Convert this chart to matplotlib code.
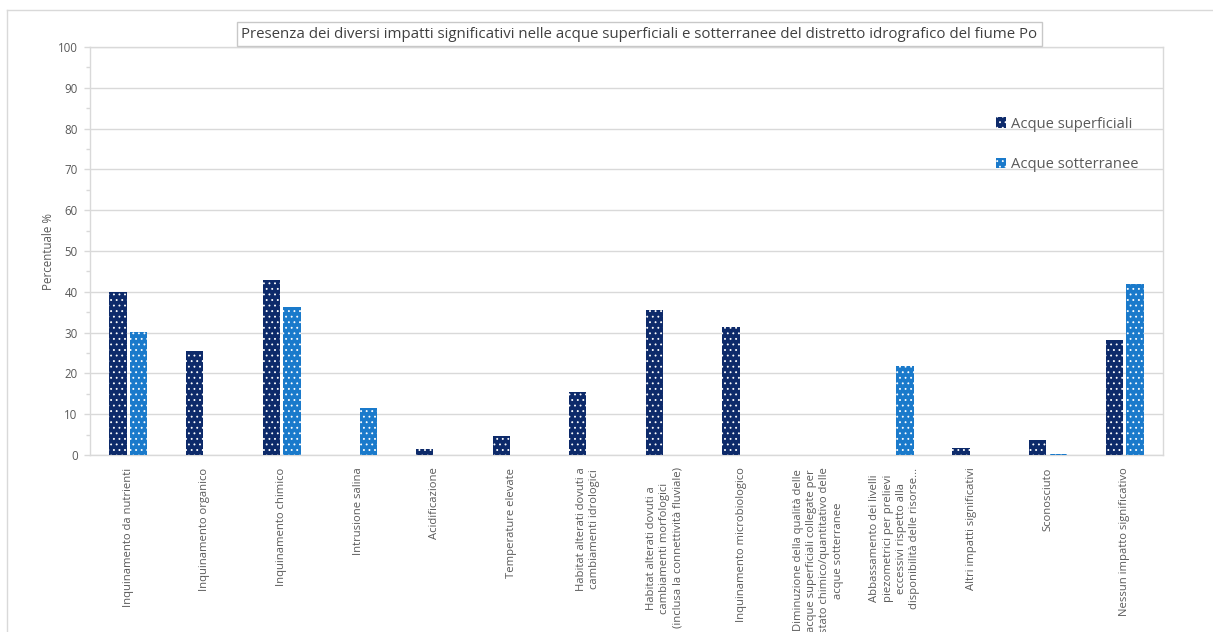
import matplotlib
matplotlib.use("Agg")
import matplotlib.pyplot as plt
import numpy as np
from matplotlib.patches import Patch
from matplotlib.lines import Line2D

plt.rcParams["font.family"] = ["Open Sans", "DejaVu Sans"]
plt.rcParams["hatch.color"] = "white"
plt.rcParams["hatch.linewidth"] = 0.6

# ------------------------------------------------------------------ data -----
categories = [
    "Inquinamento da nutrienti",
    "Inquinamento organico",
    "Inquinamento chimico",
    "Intrusione salina",
    "Acidificazione",
    "Temperature elevate",
    "Habitat alterati dovuti a\ncambiamenti idrologici",
    "Habitat alterati dovuti a\ncambiamenti morfologici\n(inclusa la connettività fluviale)",
    "Inquinamento microbiologico",
    "Diminuzione della qualità delle\nacque superficiali collegate per\nstato chimico/quantitativo delle\nacque sotterranee",
    "Abbassamento dei livelli\npiezometrici per prelievi\neccessivi rispetto alla\ndisponibilità delle risorse...",
    "Altri impatti significativi",
    "Sconosciuto",
    "Nessun impatto significativo",
]
superficiali = [40.0, 25.6, 42.9, 0.0, 1.4, 4.7, 15.4, 35.5, 31.3, 0.0, 0.0, 1.6, 3.6, 28.1]
sotterranee = [30.1, 0.0, 36.3, 11.6, 0.0, 0.0, 0.0, 0.0, 0.0, 0.0, 21.7, 0.0, 0.3, 41.8]

C_SUP = "#0D2A6A"
C_SOT = "#1A7ACB"
GRID = "#D9D9D9"
TXT = "#595959"

# ---------------------------------------------------------------- figure -----
fig = plt.figure(figsize=(12.13, 6.32), dpi=100)
ax = fig.add_axes([90 / 1213, 1 - 455 / 632, (1163 - 90) / 1213, (455 - 47) / 632])

x = np.arange(len(categories))
w = 0.225
ax.bar(x - 0.135, superficiali, width=w, color=C_SUP, hatch="...", linewidth=0, zorder=3)
ax.bar(x + 0.135, sotterranee, width=w, color=C_SOT, hatch="...", linewidth=0, zorder=3)

ax.set_xlim(-0.5, len(categories) - 0.5)
ax.set_ylim(0, 100)
ax.set_yticks(np.arange(0, 101, 10))
ax.set_yticks(np.arange(0, 101, 5), minor=True)
ax.grid(axis="y", which="major", color=GRID, linewidth=1.0, zorder=0)
ax.tick_params(axis="y", which="both", colors=GRID, labelcolor=TXT, labelsize=8.3,
               length=4, width=1.0, pad=5)
ax.tick_params(axis="y", which="minor", length=3)

ax.set_xticks(x)
ax.set_xticklabels(categories, rotation=90, ha="center", va="top",
                   multialignment="center", fontsize=8.1, color=TXT,
                   linespacing=1.3)
ax.tick_params(axis="x", length=0, pad=9)

for sp in ax.spines.values():
    sp.set_color(GRID)
    sp.set_linewidth(1.0)

ax.set_ylabel("Percentuale %", fontsize=8.3, color=TXT, labelpad=2)

# legend
handles = [Patch(facecolor=C_SUP, hatch="...", linewidth=0),
           Patch(facecolor=C_SOT, hatch="...", linewidth=0)]
ax.legend(handles, ["Acque superficiali", "Acque sotterranee"],
          loc="upper left", bbox_to_anchor=(0.832, 0.862), frameon=False,
          fontsize=10.6, labelcolor=TXT, handlelength=0.7, handleheight=0.7,
          handletextpad=0.3, labelspacing=1.75)

# title box
fig.text(639.5 / 1213, 1 - 34 / 632,
         "Presenza dei diversi impatti significativi nelle acque superficiali "
         "e sotterranee del distretto idrografico del fiume Po",
         ha="center", va="center", fontsize=10.8, color="#404040",
         bbox=dict(facecolor="white", edgecolor="#C8C8C8", linewidth=1.0,
                   boxstyle="square,pad=0.3"))

# outer chart frame (left and top edges)
fig.add_artist(Line2D([7 / 1213, 7 / 1213], [0, 1 - 10 / 632],
                      transform=fig.transFigure, color="#D9D9D9", linewidth=1.0))
fig.add_artist(Line2D([7 / 1213, 1], [1 - 10 / 632, 1 - 10 / 632],
                      transform=fig.transFigure, color="#D9D9D9", linewidth=1.0))

fig.savefig("out.png", dpi=100)
